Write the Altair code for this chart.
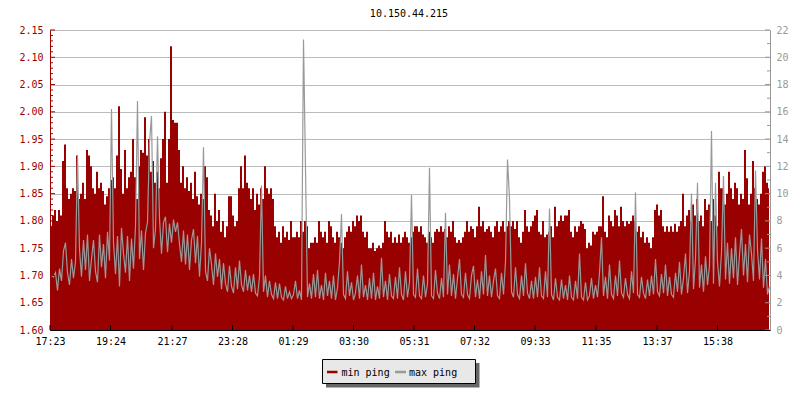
import json
import altair as alt
import pandas as pd

# ---------------- data ----------------
title_text = "10.150.44.215"
series_names = ["min ping", "max ping"]
series_colors = ["#990000", "#999999"]

sample_minutes = 4  # one sample every 4 minutes, starting 17:23
tick_minutes = [0, 121, 244, 365, 486, 607, 728, 849, 970, 1092, 1214, 1335]
tick_labels = ["17:23", "19:24", "21:27", "23:28", "01:29", "03:30",
               "05:31", "07:32", "09:33", "11:35", "13:37", "15:38"]

left_major = [1.60, 1.65, 1.70, 1.75, 1.80, 1.85, 1.90, 1.95, 2.00, 2.05, 2.10, 2.15]
left_minor = [round(1.60 + 0.01 * k, 2) for k in range(56) if k % 5]
right_major = [0, 2, 4, 6, 8, 10, 12, 14, 16, 18, 20, 22]
right_minor = [1, 3, 5, 7, 9, 11, 13, 15, 17, 19, 21]

min_ping = [
    1.79, 1.81, 1.82, 1.80, 1.82, 1.81, 1.91, 1.94, 1.86, 1.84, 1.85, 1.86, 1.855, 1.92, 1.84, 1.85, 1.87, 1.84, 1.93, 1.92,
    1.90, 1.86, 1.85, 1.89, 1.86, 1.87, 1.855, 1.83, 1.845, 1.86, 1.875, 1.88, 1.86, 1.92, 2.01, 1.895, 1.85, 1.93, 1.86, 1.88,
    1.89, 1.95, 1.88, 1.84, 1.90, 1.93, 1.925, 1.99, 1.92, 1.95, 1.89, 1.91, 1.87, 1.89, 1.86, 1.915, 1.95, 2.00, 1.87, 1.95,
    2.12, 1.985, 1.98, 1.98, 1.93, 1.87, 1.90, 1.86, 1.88, 1.855, 1.87, 1.84, 1.89, 1.845, 1.83, 1.85, 1.84, 1.90, 1.88, 1.82,
    1.81, 1.79, 1.85, 1.80, 1.82, 1.78, 1.80, 1.77, 1.79, 1.845, 1.845, 1.81, 1.79, 1.80, 1.86, 1.90, 1.86, 1.92, 1.87, 1.86,
    1.84, 1.86, 1.82, 1.85, 1.83, 1.86, 1.84, 1.90, 1.86, 1.85, 1.86, 1.84, 1.79, 1.77, 1.78, 1.76, 1.79, 1.77, 1.78, 1.765,
    1.80, 1.77, 1.77, 1.78, 1.77, 1.80, 1.78, 1.80, 1.79, 1.75, 1.76, 1.76, 1.77, 1.76, 1.80, 1.78, 1.77, 1.78, 1.76, 1.80,
    1.79, 1.77, 1.76, 1.78, 1.77, 1.76, 1.75, 1.77, 1.78, 1.79, 1.78, 1.80, 1.79, 1.81, 1.80, 1.81, 1.78, 1.77, 1.78, 1.75,
    1.75, 1.76, 1.745, 1.75, 1.755, 1.75, 1.76, 1.80, 1.78, 1.77, 1.78, 1.76, 1.77, 1.76, 1.775, 1.76, 1.77, 1.78, 1.77, 1.76,
    1.77, 1.78, 1.79, 1.79, 1.78, 1.79, 1.775, 1.77, 1.76, 1.78, 1.77, 1.76, 1.78, 1.785, 1.78, 1.79, 1.78, 1.785, 1.77, 1.79,
    1.78, 1.80, 1.77, 1.76, 1.765, 1.76, 1.77, 1.78, 1.80, 1.78, 1.79, 1.785, 1.77, 1.79, 1.826, 1.79, 1.80, 1.78, 1.785, 1.79,
    1.78, 1.77, 1.79, 1.80, 1.78, 1.79, 1.80, 1.78, 1.79, 1.80, 1.79, 1.80, 1.785, 1.80, 1.77, 1.76, 1.78, 1.82, 1.79, 1.78,
    1.79, 1.80, 1.81, 1.82, 1.78, 1.775, 1.80, 1.77, 1.775, 1.78, 1.79, 1.77, 1.826, 1.79, 1.80, 1.81, 1.80, 1.81, 1.81, 1.82,
    1.78, 1.77, 1.79, 1.78, 1.79, 1.80, 1.795, 1.785, 1.75, 1.76, 1.755, 1.78, 1.775, 1.78, 1.79, 1.79, 1.845, 1.78, 1.77, 1.81,
    1.80, 1.79, 1.82, 1.81, 1.79, 1.826, 1.80, 1.79, 1.80, 1.795, 1.80, 1.81, 1.80, 1.78, 1.79, 1.77, 1.78, 1.76, 1.77, 1.76,
    1.75, 1.77, 1.82, 1.83, 1.81, 1.82, 1.79, 1.78, 1.79, 1.78, 1.79, 1.78, 1.795, 1.78, 1.79, 1.80, 1.85, 1.79, 1.81, 1.82,
    1.80, 1.83, 1.81, 1.84, 1.80, 1.81, 1.79, 1.84, 1.82, 1.83, 1.80, 1.84, 1.81, 1.79, 1.89, 1.86, 1.86, 1.83, 1.85, 1.89,
    1.86, 1.84, 1.87, 1.86, 1.83, 1.85, 1.84, 1.93, 1.878, 1.83, 1.85, 1.91, 1.86, 1.84, 1.83, 1.85, 1.89, 1.90, 1.87, 1.86,
]

max_ping = [
    4.0, 3.9, 4.2, 2.9, 4.5, 3.6, 5.8, 6.4, 4.2, 3.3, 5.2, 3.8, 5.0, 12.8, 5.9, 3.9, 6.6, 4.4, 7.0, 3.6,
    5.2, 6.6, 4.3, 3.5, 7.0, 4.6, 6.3, 3.8, 7.2, 5.1, 16.2, 6.4, 4.1, 6.9, 3.2, 7.5, 5.6, 4.2, 6.9, 3.6,
    6.7, 4.5, 7.6, 16.8, 5.2, 7.3, 4.4, 7.1, 7.9, 13.8, 15.7, 6.0, 7.4, 14.2, 8.2, 5.6, 7.9, 8.3, 5.7, 7.8,
    6.4, 8.1, 7.2, 7.9, 6.3, 5.0, 7.3, 4.8, 7.0, 4.4, 6.6, 7.4, 4.9, 6.9, 3.9, 6.4, 13.4, 4.3, 3.6, 6.0,
    4.8, 3.3, 5.6, 3.9, 5.2, 3.0, 4.9, 3.4, 2.8, 4.7, 3.2, 2.7, 4.6, 3.0, 5.1, 3.3, 2.8, 4.4, 2.9, 4.0,
    2.8, 4.1, 2.7, 2.5, 3.9, 10.6, 2.8, 4.0, 2.4, 3.6, 2.6, 2.3, 3.5, 2.3, 3.4, 2.4, 2.2, 3.2, 2.3, 2.8,
    2.3, 2.6, 3.6, 2.3, 2.9, 2.2, 21.3, 11.8, 2.4, 3.4, 2.3, 4.1, 2.4, 4.4, 2.3, 3.3, 2.2, 4.2, 2.5, 3.6,
    2.3, 4.0, 2.2, 3.1, 5.0, 8.5, 2.6, 2.3, 4.3, 2.5, 3.5, 2.2, 2.7, 4.0, 2.3, 4.8, 2.4, 3.3, 2.2, 3.8,
    2.3, 4.2, 2.2, 3.2, 2.3, 5.3, 2.4, 3.6, 2.2, 4.1, 2.5, 2.3, 3.9, 2.3, 4.6, 2.6, 2.2, 4.3, 2.4, 3.5,
    9.9, 2.6, 2.4, 4.5, 2.5, 2.3, 4.0, 2.4, 3.4, 11.9, 2.5, 2.3, 4.4, 2.7, 2.3, 3.8, 2.4, 8.6, 2.6, 4.8,
    2.5, 4.1, 2.3, 3.8, 5.2, 2.6, 2.4, 4.2, 2.6, 2.3, 4.0, 4.7, 2.4, 3.7, 2.3, 4.3, 2.6, 5.5, 2.5, 4.0,
    2.4, 3.6, 4.5, 2.5, 2.3, 4.2, 2.6, 5.0, 12.5, 9.6, 2.8, 2.4, 4.6, 2.6, 2.3, 4.0, 2.5, 4.9, 2.7, 2.3,
    3.6, 2.3, 3.9, 2.4, 4.6, 2.5, 2.3, 4.3, 2.4, 8.9, 2.6, 2.2, 3.8, 2.4, 2.2, 3.7, 2.3, 3.3, 2.2, 4.0,
    2.4, 2.2, 3.6, 2.3, 5.6, 2.4, 2.2, 3.5, 2.2, 2.5, 3.8, 2.3, 3.3, 2.4, 4.2, 6.8, 2.5, 3.9, 2.3, 4.8,
    2.6, 2.3, 4.0, 2.5, 5.1, 2.7, 2.4, 3.8, 2.6, 2.3, 4.3, 2.7, 10.1, 2.6, 2.4, 3.9, 2.7, 2.3, 3.7, 2.5,
    4.0, 2.6, 5.2, 2.8, 2.5, 4.1, 2.7, 4.8, 2.5, 3.9, 2.6, 2.4, 4.2, 2.8, 5.0, 2.6, 3.8, 5.6, 2.7, 4.3,
    10.0, 3.0, 5.2, 10.8, 3.1, 4.8, 2.8, 5.4, 3.3, 4.7, 14.6, 3.4, 10.8, 5.0, 3.2, 5.7, 11.3, 3.7, 6.4, 3.4,
    6.0, 3.8, 6.8, 3.3, 5.5, 7.4, 4.0, 6.3, 3.5, 7.0, 5.6, 3.6, 11.7, 5.9, 3.7, 6.7, 3.1, 5.2, 2.6, 3.2,
]

# ---------------- styling ----------------
FONT = "DejaVu Sans Mono"
RED, GRAY = series_colors
W, H = 720, 300

df = pd.DataFrame({
    "minute": [sample_minutes * i + sample_minutes / 2 for i in range(len(min_ping))],
    "min_ping": min_ping,
    "max_ping": max_ping,
})

x_scale = alt.Scale(domain=[0, 1440], nice=False, zero=False)
l_scale = alt.Scale(domain=[1.60, 2.15], nice=False, zero=False)
r_scale = alt.Scale(domain=[0, 22], nice=False, zero=False)

label_expr = "{}[indexof({}, datum.value)]".format(json.dumps(tick_labels), json.dumps(tick_minutes))
x_axis = alt.Axis(values=tick_minutes, labelExpr=label_expr, title=None, ticks=False,
                  grid=False, domainColor="black", domainWidth=1, labelColor="black",
                  labelFont=FONT, labelFontSize=10, labelPadding=6, labelAngle=0,
                  labelFlush=False, labelOverlap=False, zindex=1)

area = alt.Chart(df).mark_area(interpolate="step", color=RED, clip=True).encode(
    x=alt.X("minute:Q", scale=x_scale, axis=x_axis),
    y=alt.Y("min_ping:Q", scale=l_scale,
            axis=alt.Axis(orient="left", values=left_major, format=".2f", title=None,
                          ticks=False, domainColor=RED, labelColor=RED, labelFont=FONT,
                          labelFontSize=10, labelPadding=7, grid=True,
                          gridColor="#bbbbbb", gridWidth=1)),
    y2=alt.value(H),
)

line = alt.Chart(df).mark_line(interpolate="linear", color=GRAY, strokeWidth=1.2, clip=True,
                               xOffset=0.5).encode(
    x=alt.X("minute:Q", scale=x_scale, axis=x_axis),
    y=alt.Y("max_ping:Q", scale=r_scale,
            axis=alt.Axis(orient="right", values=right_major, format="d", title=None,
                          ticks=False, domainColor=GRAY, labelColor=GRAY, labelFont=FONT,
                          labelFontSize=10, labelPadding=6, grid=False)),
)

def vticks(values, scale, color, x0, x1):
    return alt.Chart(pd.DataFrame({"v": values})).mark_rule(color=color, strokeWidth=1).encode(
        y=alt.Y("v:Q", scale=scale, axis=None), x=alt.value(x0), x2=alt.value(x1))

lt_major = vticks(left_major, l_scale, RED, 0, 5)
lt_minor = vticks(left_minor, l_scale, RED, 0, 3)
rt_major = vticks(right_major, r_scale, GRAY, W - 5, W)
rt_minor = vticks(right_minor, r_scale, GRAY, W - 3, W)

xt = alt.Chart(pd.DataFrame({"minute": tick_minutes})).mark_rule(color="black").encode(
    x=alt.X("minute:Q", scale=x_scale, axis=x_axis), y=alt.value(H - 5), y2=alt.value(H))

one = alt.Data(values=[{"k": 0}])
title_mark = alt.Chart(one).mark_text(text=title_text, align="center", baseline="alphabetic",
                                      font=FONT, fontSize=10, color="black").encode(
    x=alt.value(W / 2 - 1), y=alt.value(-13.3))
shadow = alt.Chart(one).mark_rect(color="#666666").encode(
    x=alt.value(276), x2=alt.value(429.5), y=alt.value(333), y2=alt.value(357.5))
box = alt.Chart(one).mark_rect(fill="#e8e8e8", stroke="black", strokeWidth=1).encode(
    x=alt.value(272.5), x2=alt.value(425.5), y=alt.value(329.5), y2=alt.value(353.5))
sym1 = alt.Chart(one).mark_rule(color=RED, strokeWidth=2.5).encode(
    x=alt.value(277), x2=alt.value(287.5), y=alt.value(342))
sym2 = alt.Chart(one).mark_rule(color=GRAY, strokeWidth=2.5).encode(
    x=alt.value(345), x2=alt.value(356), y=alt.value(342))
txt1 = alt.Chart(one).mark_text(text=series_names[0], align="left", baseline="alphabetic",
                                font=FONT, fontSize=10, color="black").encode(
    x=alt.value(291.5), y=alt.value(345.5))
txt2 = alt.Chart(one).mark_text(text=series_names[1], align="left", baseline="alphabetic",
                                font=FONT, fontSize=10, color="black").encode(
    x=alt.value(359), y=alt.value(345.5))

chart = alt.layer(
    area, line, lt_major, lt_minor, rt_major, rt_minor, xt,
    title_mark, shadow, box, sym1, sym2, txt1, txt2,
).resolve_scale(y="independent").properties(
    width=W, height=H,
    autosize=alt.AutoSizeParams(type="none"),
    padding={"left": 42, "top": 22, "right": 22, "bottom": 58},
    background="white",
).configure_view(stroke=None)

chart.save("out.html", embed_options={"renderer": "svg", "actions": False})
